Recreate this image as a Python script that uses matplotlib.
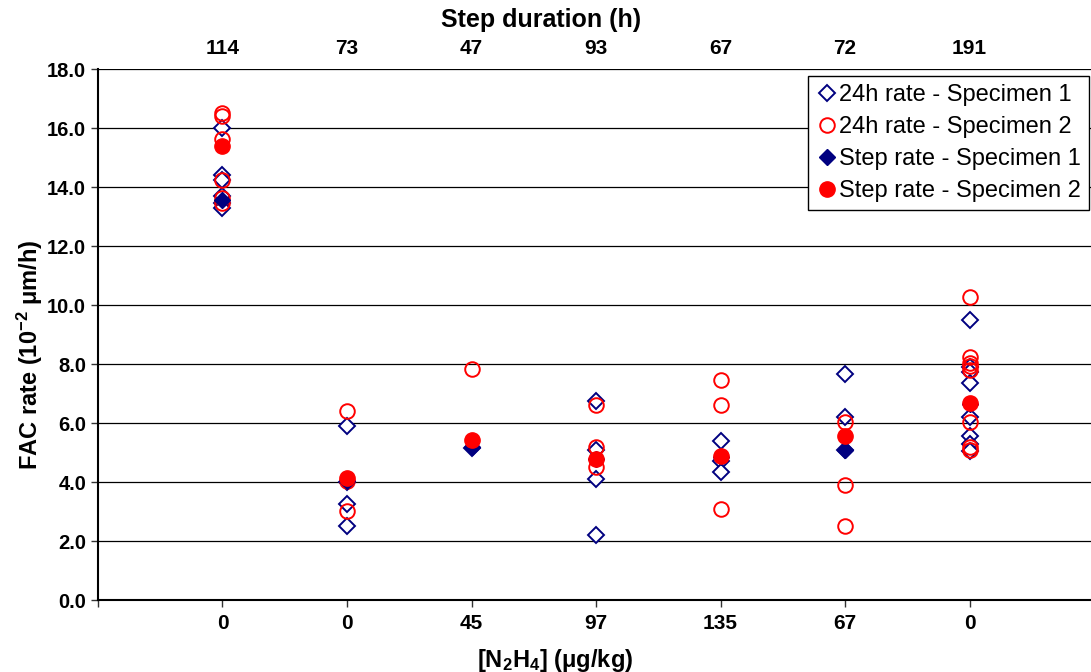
import matplotlib.pyplot as plt
import numpy as np

plt.rcParams['font.family'] = ['Liberation Sans', 'DejaVu Sans']
plt.rcParams['mathtext.fontset'] = 'custom'
plt.rcParams['mathtext.rm'] = 'Liberation Sans'
plt.rcParams['mathtext.bf'] = 'Liberation Sans:bold'
plt.rcParams['mathtext.default'] = 'bf'

conc_labels = ["0", "0", "45", "97", "135", "67", "0"]
step_hours = ["114", "73", "47", "93", "67", "72", "191"]

# 24h rates, one list per step
rate24_s1 = [
    [16.0, 14.4, 14.25, 13.7, 13.45, 13.3],
    [5.9, 4.0, 3.25, 2.52],
    [5.15],
    [6.75, 5.1, 4.1, 2.2],
    [5.4, 4.7, 4.35],
    [7.65, 6.2, 5.1],
    [9.5, 7.9, 7.75, 7.35, 6.2, 5.55, 5.3, 5.05],
]
rate24_s2 = [
    [16.5, 16.4, 15.65, 14.25, 13.65, 13.45],
    [6.4, 4.05, 3.03],
    [7.85],
    [6.6, 5.2, 4.5],
    [7.45, 6.62, 3.1],
    [6.05, 3.9, 2.5],
    [10.28, 8.25, 8.05, 7.95, 7.8, 6.05, 5.2, 5.08],
]
step_s1 = [13.55, 4.05, 5.2, 4.8, 4.85, 5.1, 6.65]
step_s2 = [15.4, 4.13, 5.42, 4.8, 4.9, 5.55, 6.68]


def flatten(groups):
    xs, ys = [], []
    for i, g in enumerate(groups):
        xs += [i + 1] * len(g)
        ys += g
    return xs, ys


navy = "#000080"
red = "#FF0000"

fig = plt.figure(figsize=(10.91, 6.72), dpi=100)
ax = fig.add_axes([0.0898, 0.107, 0.913, 0.79])

x1, y1 = flatten(rate24_s1)
x2, y2 = flatten(rate24_s2)
pos = np.arange(1, len(step_s1) + 1)

ax.plot(x1, y1, ls="none", marker="D", ms=8, mfc="white", mec=navy, mew=1.4,
        label="24h rate - Specimen 1")
ax.plot(x2, y2, ls="none", marker="o", ms=10.5, mfc="none", mec=red, mew=1.4,
        label="24h rate - Specimen 2")
ax.plot(pos, step_s1, ls="none", marker="D", ms=8, mfc=navy, mec=navy,
        label="Step rate - Specimen 1")
ax.plot(pos, step_s2, ls="none", marker="o", ms=11, mfc=red, mec=red,
        label="Step rate - Specimen 2")

ax.set_xlim(0, 8)
ax.set_ylim(0, 18)
ax.set_yticks(np.arange(0, 18.1, 2))
ax.set_yticklabels([f"{v:.1f}" for v in np.arange(0, 18.1, 2)])
ax.yaxis.grid(True, color="black", lw=0.9)
ax.set_axisbelow(True)

ax.set_xticks(np.arange(0, 8))
ax.set_xticklabels([""] + conc_labels)
ax.tick_params(axis="both", labelsize=15, length=5, width=1, color="#333333")
ax.tick_params(axis="y", labelsize=14.5)
ax.tick_params(axis="x", pad=5)
for lab in ax.get_xticklabels() + ax.get_yticklabels():
    lab.set_fontweight("bold")

for s in ["top", "right"]:
    ax.spines[s].set_visible(False)
ax.spines["left"].set_linewidth(1.5)
ax.spines["bottom"].set_linewidth(1.5)

fig.text(555 / 1091, 1 - 660 / 672, "[N$_2$H$_4$] ($\\mu$g/kg)", fontsize=17,
         fontweight="bold", ha="center", va="center")
fig.text(30 / 1091, 1 - 355 / 672, "FAC rate (10$^{-2}$ $\\mu$m/h)", fontsize=17,
         fontweight="bold", ha="center", va="center", rotation=90)
fig.text(541 / 1091, 1 - 20 / 672, "Step duration (h)", fontsize=18,
         fontweight="bold", ha="center", va="center")

top = ax.twiny()
top.set_xlim(ax.get_xlim())
top.set_xticks(pos)
top.set_xticklabels(step_hours, fontsize=15, fontweight="bold")
top.tick_params(axis="x", length=0, pad=8)
for s in top.spines.values():
    s.set_visible(False)

leg = ax.legend(loc="upper right", bbox_to_anchor=(1089 / 1091, 1 - 76 / 672),
                bbox_transform=fig.transFigure, fontsize=17, frameon=True,
                fancybox=False, edgecolor="black", handletextpad=0.05,
                borderpad=0.35, labelspacing=0.42, handlelength=0.9,
                borderaxespad=0, framealpha=1)
leg.get_frame().set_linewidth(1.0)

fig.savefig("out.png", dpi=100)
